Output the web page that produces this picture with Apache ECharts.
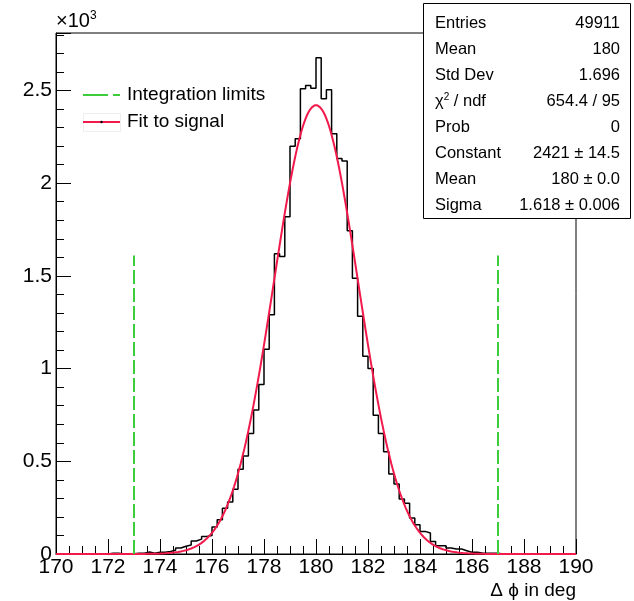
<!DOCTYPE html>
<html><head><meta charset="utf-8">
<script src="https://cdn.jsdelivr.net/npm/echarts@6/dist/echarts.min.js"></script>
<style>html,body{margin:0;padding:0;background:#fff}#c{width:634px;height:601px}</style>
</head><body><div id="c"></div>
<script>
// ---- data ----
const binLow = 170;
const binWidth = 0.2;
const counts = [
  0, 0, 0, 0, 0, 0, 0, 0, 0, 0,            // 170.0 - 171.8
  4, 4, 2, 0, 2, 4, 4, 11, 4, 9,           // 172.0 - 173.8
  9, 14, 20, 32, 42, 48, 70, 80, 95, 100,  // 174.0 - 175.8
  145, 185, 247, 280, 349, 457, 529, 650, 776, 914,        // 176.0 - 177.8
  1104, 1290, 1620, 1605, 1819, 2199, 2240, 2509, 2527, 2512, // 178.0 - 179.8
  2676, 2455, 2504, 2267, 2133, 2120, 1744, 1487, 1282, 1067, // 180.0 - 181.8
  1000, 749, 650, 552, 432, 378, 296, 274, 194, 158,       // 182.0 - 183.8
  122, 113, 68, 45, 45, 32, 27, 27, 18, 9,                 // 184.0 - 185.8
  9, 5, 4, 4, 4, 0, 0, 0, 0, 0,                            // 186.0 - 187.8
  0, 0, 0, 0, 0, 0, 0, 0, 0, 0                             // 188.0 - 189.8
];
const limits = [173, 187];
const limitHeight = 1610;
const fitConstant = 2421;
const fitMean = 180;
const fitSigma = 1.618;
const xMin = 170, xMax = 190, xStep = 2;
const yMax = 2810, yStep = 500, yMinorStep = 100;
const legendNames = ['Integration limits', 'Fit to signal'];
const statsRows = [
  ['Entries', '49911'],
  ['Mean', '180'],
  ['Std Dev', '1.696'],
  ['χ{sup|2} / ndf', '654.4 / 95'],
  ['Prob', '0'],
  ['Constant', '2421 ± 14.5'],
  ['Mean', '180 ± 0.0'],
  ['Sigma', '1.618 ± 0.006']
];

// ---- build ----
const FONT = '"Liberation Sans", Arial, Helvetica, sans-serif';
const histData = counts.map((v, i) => [binLow + i * binWidth, v]);
histData.push([binLow + counts.length * binWidth, counts[counts.length - 1]]);

const fitData = [];
for (let k = 0; k <= 400; k++) {
  const x = xMin + k * (xMax - xMin) / 400;
  const z = (x - fitMean) / fitSigma;
  fitData.push([x, fitConstant * Math.exp(-0.5 * z * z)]);
}

const limitSeries = limits.map((x, i) => ({
  type: 'line', name: legendNames[0], data: [[x, 0], [x, limitHeight]],
  showSymbol: false, symbol: 'none', z: 4, silent: true,
  lineStyle: { color: '#3ccc3c', width: 2, type: [14, 4] }
}));

const chart = echarts.init(document.getElementById('c'), null, { renderer: 'canvas' });

const statsGraphics = [];
statsGraphics.push({
  type: 'rect', shape: { x: 423.5, y: 3.5, width: 207, height: 215 },
  style: { fill: '#fff', stroke: '#000', lineWidth: 1 }, z: 100
});
statsRows.forEach((r, i) => {
  const cy = 23 + i * 26.1;
  statsGraphics.push({
    type: 'text', z: 101,
    style: { text: r[0], x: 435, y: cy, fill: '#000', fontSize: 16.5, fontFamily: FONT,
      align: 'left', verticalAlign: 'middle',
      rich: { sup: { fontSize: 10, fontFamily: FONT, fill: '#000', verticalAlign: 'top', padding: [0, 0, 8, 0] } } }
  });
  statsGraphics.push({
    type: 'text', z: 101,
    style: { text: r[1], x: 620, y: cy, fill: '#000', fontSize: 16.5, fontFamily: FONT,
      align: 'right', verticalAlign: 'middle' }
  });
});

const option = {
  animation: false,
  backgroundColor: '#fff',
  grid: { left: 56, right: 58, top: 33, bottom: 47, show: true, borderColor: '#000', borderWidth: 1, containLabel: false },
  xAxis: {
    type: 'value', min: xMin, max: xMax, interval: xStep,
    axisLine: { show: true, onZero: false, lineStyle: { color: '#000', width: 1 } },
    axisTick: { show: true, inside: true, length: 15, lineStyle: { color: '#000', width: 1 } },
    minorTick: { show: true, splitNumber: 4, length: 8, lineStyle: { color: '#000', width: 1 } },
    splitLine: { show: false }, minorSplitLine: { show: false },
    axisLabel: { color: '#000', fontSize: 21, fontFamily: FONT, margin: 3, showMinLabel: true, showMaxLabel: true },
    name: 'Δ ϕ in deg', nameLocation: 'end', nameGap: 0,
    nameTextStyle: { color: '#000', fontSize: 19, fontFamily: FONT, align: 'right', verticalAlign: 'top', padding: [27, 0, 0, 0] }
  },
  yAxis: [
    {
      type: 'value', min: 0, max: yMax, interval: yStep, position: 'left',
      axisLine: { show: true, onZero: false, lineStyle: { color: '#000', width: 1 } },
      axisTick: { show: true, inside: true, length: 15, lineStyle: { color: '#000', width: 1 } },
      splitLine: { show: false },
      axisLabel: { color: '#000', fontSize: 21, fontFamily: FONT, margin: 4,
        formatter: v => (v % yStep === 0 ? String(v / 1000) : '') }
    },
    {
      type: 'value', min: 0, max: yMax, interval: yMinorStep, position: 'left',
      axisLine: { show: false },
      axisTick: { show: true, inside: true, length: 8, lineStyle: { color: '#000', width: 1 } },
      splitLine: { show: false }, axisLabel: { show: false }
    }
  ],
  series: [
    {
      type: 'line', name: 'data', data: histData, step: 'end', showSymbol: false, symbol: 'none',
      lineStyle: { color: '#000', width: 1.5 }, z: 2, silent: true
    },
    {
      type: 'line', name: legendNames[1], data: fitData, showSymbol: false, symbol: 'none', smooth: false,
      lineStyle: { color: '#f2194b', width: 2 }, z: 3, silent: true
    },
    ...limitSeries
  ],
  graphic: [
    // x10^3 multiplier
    { type: 'text', z: 50, style: { text: '×10{sup|3}', x: 56, y: 32, fill: '#000', fontSize: 20, fontFamily: FONT,
      align: 'left', verticalAlign: 'bottom',
      rich: { sup: { fontSize: 12, fontFamily: FONT, fill: '#000', verticalAlign: 'top', padding: [0, 0, 10, 0] } } } },
    // legend
    { type: 'line', z: 50, shape: { x1: 83, y1: 95, x2: 120, y2: 95 }, style: { stroke: '#3ccc3c', lineWidth: 2, lineDash: [25, 5] } },
    { type: 'text', z: 50, style: { text: legendNames[0], x: 127, y: 95, fill: '#000', fontSize: 19, fontFamily: FONT, align: 'left', verticalAlign: 'middle' } },
    { type: 'rect', z: 49, shape: { x: 83.5, y: 113.5, width: 37, height: 18 }, style: { fill: 'none', stroke: '#eeeeee', lineWidth: 1 } },
    { type: 'line', z: 50, shape: { x1: 83, y1: 122, x2: 120, y2: 122 }, style: { stroke: '#f2194b', lineWidth: 2 } },
    { type: 'circle', z: 51, shape: { cx: 101.5, cy: 122, r: 1.2 }, style: { fill: '#000' } },
    { type: 'text', z: 50, style: { text: legendNames[1], x: 127, y: 122, fill: '#000', fontSize: 19, fontFamily: FONT, align: 'left', verticalAlign: 'middle' } },
    ...statsGraphics
  ]
};
chart.setOption(option);
</script>
</body></html>
